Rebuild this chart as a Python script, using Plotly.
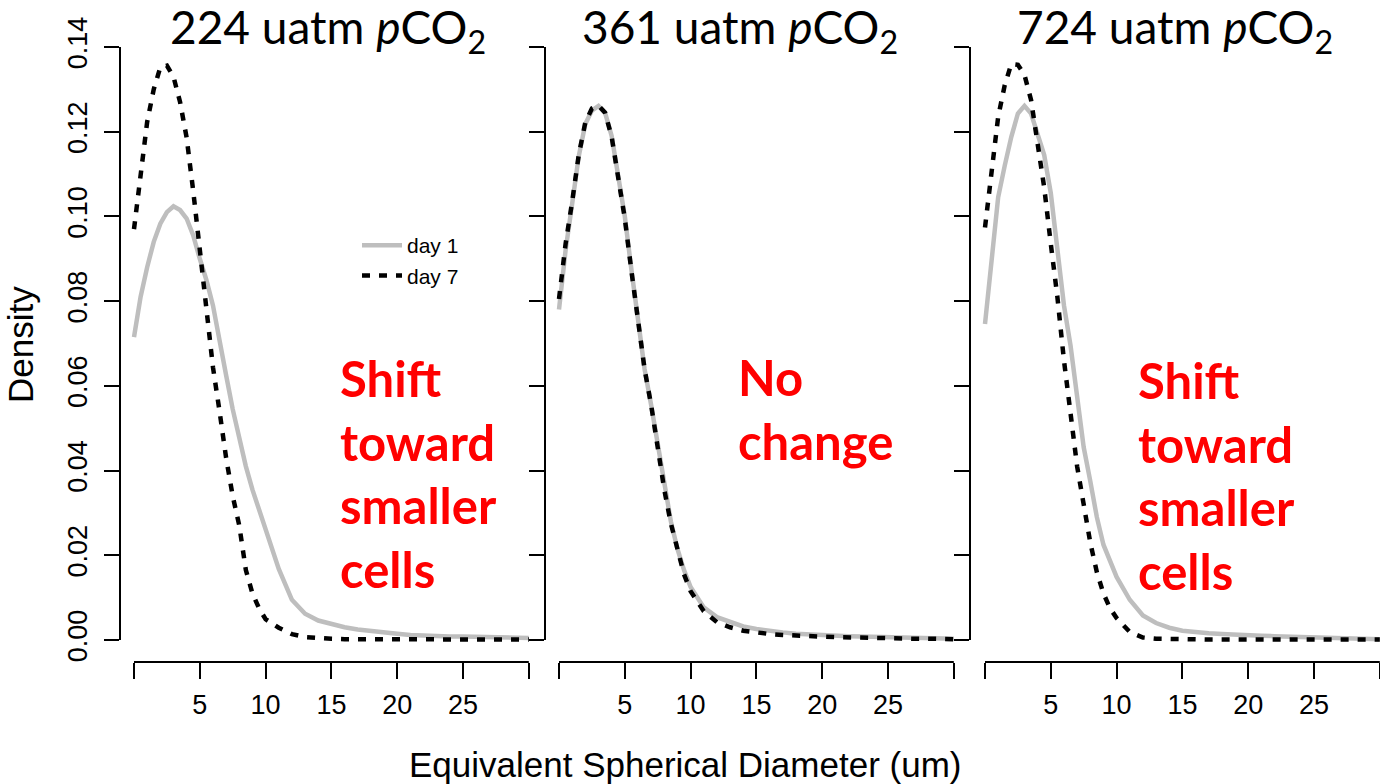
import plotly.graph_objects as go

# ---------------- data ----------------
esd = [0, 0.5, 1, 1.5, 2, 2.5, 3, 3.5, 4, 4.5, 5, 5.5, 6, 6.5, 7, 7.5, 8, 8.5, 9, 9.5,
       10, 11, 12, 13, 14, 15, 16, 17, 18, 19, 20, 21, 22, 23, 24, 25, 26, 27, 28, 29, 30]

p224_day1 = [0.0715, 0.081, 0.088, 0.094, 0.0983, 0.101, 0.1024, 0.1015, 0.0995, 0.0955,
             0.090, 0.085, 0.079, 0.070, 0.0625, 0.0545, 0.0475, 0.041, 0.0355, 0.031,
             0.0265, 0.0168, 0.0095, 0.0062, 0.0046, 0.0038, 0.003, 0.0025, 0.0021, 0.0018,
             0.0015, 0.0012, 0.001, 0.0009, 0.0008, 0.0008, 0.0007, 0.0007, 0.0006, 0.0006, 0.0005]
p224_day7 = [0.097, 0.109, 0.1223, 0.130, 0.1352, 0.1356, 0.133, 0.127, 0.1186, 0.106,
             0.092, 0.079, 0.0644, 0.054, 0.043, 0.034, 0.027, 0.0165, 0.011, 0.0075,
             0.0049, 0.0029, 0.0014, 0.0007, 0.0004, 0.0003, 0.0002, 0.0002, 0.0002, 0.0002,
             0.0001, 0.0001, 0.0001, 0.0001, 0.0001, 0.0001, 0.0001, 0.0001, 0.0001, 0.0001, 0.0001]

p361_day1 = [0.078, 0.092, 0.103, 0.1142, 0.1218, 0.125, 0.1261, 0.1245, 0.119, 0.110,
             0.100, 0.0875, 0.0755, 0.064, 0.0555, 0.046, 0.036, 0.028, 0.0215, 0.0165,
             0.0125, 0.0077, 0.0054, 0.0042, 0.0032, 0.0026, 0.0021, 0.0018, 0.0015, 0.0013,
             0.0012, 0.001, 0.0009, 0.0008, 0.0007, 0.0006, 0.0005, 0.0005, 0.0004, 0.0004, 0.0003]
p361_day7 = [0.0805, 0.0935, 0.1035, 0.1145, 0.1222, 0.1255, 0.1262, 0.1245, 0.1188, 0.1098,
             0.0995, 0.0872, 0.0755, 0.064, 0.0555, 0.0455, 0.0355, 0.0275, 0.021, 0.0155,
             0.0115, 0.0068, 0.0042, 0.003, 0.0022, 0.0017, 0.0014, 0.0012, 0.001, 0.0009,
             0.0008, 0.0007, 0.0006, 0.0006, 0.0005, 0.0004, 0.0004, 0.0003, 0.0003, 0.0002, 0.0002]

p724_day1 = [0.0746, 0.090, 0.1045, 0.112, 0.1188, 0.1243, 0.1261, 0.1243, 0.119, 0.1145,
             0.1055, 0.093, 0.079, 0.0695, 0.058, 0.0455, 0.0375, 0.029, 0.0225, 0.0185,
             0.0149, 0.0095, 0.0058, 0.004, 0.0029, 0.0022, 0.0018, 0.0016, 0.0014, 0.0012,
             0.0011, 0.001, 0.0009, 0.0008, 0.0007, 0.0006, 0.0005, 0.0004, 0.0003, 0.0002, 0.0002]
p724_day7 = [0.0974, 0.1104, 0.1235, 0.131, 0.136, 0.1358, 0.1334, 0.1275, 0.1175, 0.1068,
             0.0935, 0.081, 0.066, 0.0525, 0.041, 0.032, 0.023, 0.016, 0.011, 0.0075,
             0.0052, 0.0019, 0.0006, 0.0003, 0.0002, 0.0002, 0.0001, 0.0001, 0.0001, 0.0001,
             0.0001, 0.0001, 0.0001, 0.0001, 0.0001, 0.0001, 0.0001, 0.0001, 0.0001, 0.0001, 0.0001]

panel_titles = ["224 uatm <i>p</i>CO<sub>2</sub>",
                "361 uatm <i>p</i>CO<sub>2</sub>",
                "724 uatm <i>p</i>CO<sub>2</sub>"]
panel_notes = ["Shift<br>toward<br>smaller<br>cells",
               "No<br>change",
               "Shift<br>toward<br>smaller<br>cells"]
series_names = ["day 1", "day 7"]
x_tickvals = [0, 5, 10, 15, 20, 25, 30]
x_ticktext = ["", "5", "10", "15", "20", "25", ""]
y_tickvals = [0, 0.02, 0.04, 0.06, 0.08, 0.10, 0.12, 0.14]
y_ticktext = ["0.00", "0.02", "0.04", "0.06", "0.08", "0.10", "0.12", "0.14"]
x_label = "Equivalent Spherical Diameter (um)"
y_label = "Density"

panels = [(p224_day1, p224_day7), (p361_day1, p361_day7), (p724_day1, p724_day7)]

# ---------------- layout geometry ----------------
W, H = 1380, 784
px_per_unit = 13.16
panel_px = [(120, 545, 134), (545, 970, 559), (970, 1380, 985)]  # left, right, x=0 pixel
y_bottom_px, y_top_px = 662, 40
y_zero_px = 640
y_px_per_unit = 593 / 0.14
y0 = -(y_bottom_px - y_zero_px) / y_px_per_unit
y1 = y0 + (y_bottom_px - y_top_px) / y_px_per_unit

TICK_FONT = dict(family="Liberation Sans, Arial, sans-serif", size=27, color="black")
GRAY = "#BEBEBE"

fig = go.Figure()
layout = dict(width=W, height=H, margin=dict(l=0, r=0, t=0, b=0, autoexpand=False),
              template="none",
              paper_bgcolor="white", plot_bgcolor="white", showlegend=True)
shapes = []
annotations = []

for i, ((d1, d7), (lpx, rpx, zpx)) in enumerate(zip(panels, panel_px)):
    n = i + 1
    xa = "x" if n == 1 else f"x{n}"
    ya = "y" if n == 1 else f"y{n}"
    xr0 = -(zpx - lpx) / px_per_unit
    xr1 = xr0 + (rpx - lpx) / px_per_unit
    layout[f"xaxis{'' if n == 1 else n}"] = dict(
        domain=[lpx / W, rpx / W], range=[xr0, xr1], anchor=ya, automargin=False,
        showgrid=False, zeroline=False, showline=False,
        tickmode="array", tickvals=x_tickvals, ticktext=x_ticktext,
        ticks="outside", ticklen=16, tickwidth=2, tickcolor="black",
        tickfont=TICK_FONT, ticklabelstandoff=3)
    layout[f"yaxis{'' if n == 1 else n}"] = dict(
        domain=[(H - y_bottom_px) / H, (H - y_top_px) / H], range=[y0, y1], anchor=xa,
        automargin=False,
        showgrid=False, zeroline=False, showline=False,
        tickmode="array", tickvals=y_tickvals, ticktext=y_ticktext,
        ticks="outside", ticklen=15, tickwidth=2, tickcolor="black",
        tickfont=TICK_FONT, tickangle=-90, ticklabelstandoff=6, showticklabels=(n == 1))

    fig.add_trace(go.Scatter(x=esd, y=d1, mode="lines", name=series_names[0],
                             line=dict(color=GRAY, width=4.5),
                             xaxis=xa, yaxis=ya, showlegend=(n == 1), legendgroup="d1"))
    fig.add_trace(go.Scatter(x=esd, y=d7, mode="lines", name=series_names[1],
                             line=dict(color="black", width=4.5, dash="8px,9px"),
                             xaxis=xa, yaxis=ya, showlegend=(n == 1), legendgroup="d7"))

    # R-style axis lines spanning first to last tick
    shapes.append(dict(type="line", xref=f"{xa} domain", yref=ya, x0=0, x1=0,
                       y0=y_tickvals[0], y1=y_tickvals[-1], line=dict(color="black", width=2)))
    shapes.append(dict(type="line", xref=xa, yref=f"{ya} domain", x0=x_tickvals[0],
                       x1=x_tickvals[-1], y0=0, y1=0, line=dict(color="black", width=2)))

title_x = [328, 740, 1175]
for i, t in enumerate(panel_titles):
    annotations.append(dict(text=t, x=title_x[i] / W, y=1 - 30 / H, xref="paper", yref="paper",
                            xanchor="center", yanchor="middle", showarrow=False,
                            font=dict(family="Lato, sans-serif", size=46, color="black")))

note_pos = [(338, 473), (736, 409), (1136, 475)]
for (nx, ny), t in zip(note_pos, panel_notes):
    annotations.append(dict(text=f"<b>{t}</b>", x=nx / W, y=1 - ny / H, xref="paper", yref="paper",
                            xanchor="left", yanchor="middle", align="left", showarrow=False,
                            font=dict(family="Lato, sans-serif", size=49, color="#FF0000")))

annotations.append(dict(text=x_label, x=685 / W, y=1 - 764 / H, xref="paper", yref="paper",
                        xanchor="center", yanchor="middle", showarrow=False,
                        font=dict(family="Liberation Sans, Arial, sans-serif", size=35, color="black")))
annotations.append(dict(text=y_label, x=20 / W, y=1 - 345 / H, xref="paper", yref="paper",
                        xanchor="center", yanchor="middle", textangle=-90, showarrow=False,
                        font=dict(family="Liberation Sans, Arial, sans-serif", size=35, color="black")))

layout["shapes"] = shapes
layout["annotations"] = annotations
layout["legend"] = dict(x=357 / W, y=1 - 225 / H, xanchor="left", yanchor="top",
                        bgcolor="rgba(0,0,0,0)", borderwidth=0,
                        font=dict(family="Liberation Sans, Arial, sans-serif", size=21, color="black"),
                        itemwidth=40, tracegroupgap=0)
fig.update_layout(**layout)
fig.write_html("out.html")
